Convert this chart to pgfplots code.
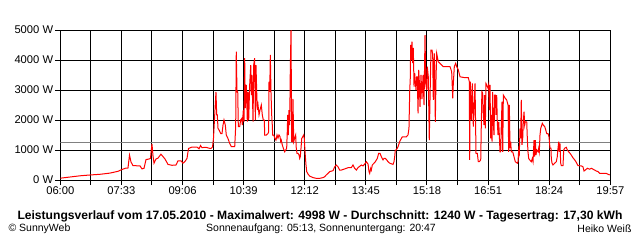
\documentclass[border=0pt]{standalone}
\usepackage{pgfplots}
\pgfplotsset{compat=1.18}
\usepackage{fontspec}
\setmainfont{Liberation Sans}
\pgfplotstableread{
m W
0 60
14.8 100
30 140
46.7 170
60.4 190
75.6 230
87.8 290
93.9 350
100 400
103 400
105.3 830
107.6 600
110.6 480
121.3 470
124.3 370
127.4 390
130.4 680
135.0 700
137.3 720
138.0 900
139.5 1200
141.1 800
142.6 560
145.6 700
148.7 730
153.2 860
156.3 780
159.3 700
163.9 520
170.0 490
176.1 500
179.1 640
183.7 640
186.7 560
189.8 620
192.8 720
195.1 1050
200.4 1100
208.0 1100
211.1 1040
213.4 1150
215.6 1080
221.7 1090
226.3 1060
229.3 1050
231.6 1100
233.1 1380
235.0 2170
236.9 2940
238.0 2170
238.9 2170
240.0 1720
242.0 1650
244.1 1550
246.1 1550
247.6 1830
249.1 2000
251.1 1830
252.6 1500
255.2 1380
257.8 1220
260.2 1110
265.4 1110
266.9 1780
267.8 4280
268.9 2940
270.0 2950
270.9 1780
273.0 1780
274.5 2000
276.1 2050
277.0 1830
278.5 2330
279.6 1950
280.6 4060
281.5 2400
283.1 3170
284.6 1950
285.6 2940
286.7 2000
288.2 3170
289.8 3830
290.7 2830
291.7 3500
293.3 1950
294.3 3830
295.8 4060
296.8 2000
297.8 3830
298.9 2940
299.8 2330
300.9 2500
302.4 2170
303.9 2330
305.9 2500
307.4 2170
308.9 2000
310.4 2000
311.1 1500
313.5 1500
316.1 1550
317.1 1610
317.6 3280
318.7 2940
319.6 4170
320.6 2940
321.7 2170
322.6 1830
323.2 1500
324.8 1500
326.3 1400
328.2 1330
329.8 1500
331.3 1400
332.8 1500
334.3 1450
335.4 1280
336.3 1330
337.8 1170
339.4 1060
341.5 940
343.0 1000
344.5 1060
345.4 1610
346.1 2170
347.0 1500
348.0 2330
349.1 1830
350.0 3670
351.1 4998
352.1 1280
353.1 1280
354.1 2700
355.2 1280
356.7 1400
358.2 1500
359.1 1060
360.2 890
361.7 890
363.3 830
364.3 720
365.2 780
366.3 1060
367.4 1380
368.9 1440
370.4 1500
371.3 1380
372.4 940
373.9 500
375.0 280
376.9 200
379.5 130
384.6 80
389.6 55
394.8 55
399.8 80
402.4 110
404.8 170
407.4 220
410.0 280
415.0 310
417.6 440
420.0 500
422.6 440
425.2 330
427.6 330
432.8 370
437.8 410
442.8 410
445.4 500
448.0 390
450.5 330
453.0 410
458.1 500
460.6 470
463.2 530
465.7 610
468.3 530
469.8 280
470.8 220
472.4 390
473.3 330
474.8 500
477.4 560
479.4 610
482.4 720
484.5 890
486.5 890
488.5 780
491.1 670
492.6 720
494.6 720
496.7 670
498.7 610
501.3 560
506.3 520
507.8 610
508.9 780
509.8 1000
511.3 1000
513.9 1110
516.5 1280
518.9 1380
520.5 1440
526.5 1440
529.1 1500
530.6 1720
531.7 2940
532.6 3400
533.2 4500
534.2 4000
535.2 4610
536.3 3900
537.2 4400
538.3 3110
539.3 3560
540.2 3300
541.3 3000
542.4 3440
543.3 3440
544.4 2220
545.4 3670
546.3 3300
547.4 2440
548.9 3500
550.4 2700
552.0 3500
553.5 2500
555.0 4830
556.1 3220
557.6 3000
558.5 3780
560.0 3440
561.5 1330
562.6 2670
564.1 4330
565.7 4330
566.7 4170
567.6 2670
569.2 4220
570.7 1940
571.7 3330
572.8 4220
575.2 3940
577.8 3890
582.8 3780
593.0 3780
595.6 3610
597.2 2720
598.1 3220
599.6 3780
601.7 3890
603.2 3780
605.7 3670
608.3 3440
615.9 3410
620.9 3410
622.4 3280
623.0 670
623.9 3280
625.5 2000
627.0 3220
628.5 1780
631.1 3220
632.6 890
634.6 890
636.1 610
637.6 610
639.8 670
641.3 2670
641.7 2940
642.8 2890
643.7 2170
644.8 1830
645.9 2830
646.8 1720
647.8 3220
648.9 3170
650.9 3060
651.9 3170
652.9 2330
653.9 3170
655.0 1390
655.9 2170
657.0 1280
658.0 2940
658.9 1940
660.0 1500
661.1 2830
662.0 2830
663.0 2170
664.1 2830
665.0 1940
666.1 1500
667.2 1940
668.1 1500
669.1 940
670.2 940
671.1 1830
672.2 2610
673.3 940
674.2 2830
677.2 2720
679.3 2670
681.3 2500
682.4 940
683.3 2500
684.4 1060
685.4 1280
686.3 940
688.5 940
690.4 780
692.4 610
695.5 560
696.5 610
697.6 1000
698.5 890
699.6 1720
700.6 1390
701.5 2670
702.6 1170
703.7 1390
704.6 1940
705.7 2280
706.7 1830
707.6 1940
709.8 1940
710.7 1390
711.7 940
712.8 720
714.3 670
716.8 610
718.3 720
719.4 610
720.9 1330
721.9 780
722.9 1330
723.9 830
725.0 1000
727.0 940
728.0 1060
728.9 940
730.0 1500
731.1 1720
732.0 1780
733.5 1890
735.0 1830
737.2 1780
738.7 1670
740.2 1550
742.2 1550
743.7 1440
745.2 1060
746.7 1060
747.2 720
748.3 560
749.8 500
752.4 560
754.8 610
756.3 780
757.4 1060
758.5 1280
759.4 940
760.4 1220
761.5 560
762.4 480
765.0 480
766.1 1000
767.6 1060
770.0 1090
771.6 1000
773.7 940
775.7 890
777.6 830
780.2 740
782.8 670
785.2 590
787.8 480
792.9 470
795.4 440
797.0 300
798.9 330
802.0 390
805.6 360
808.1 390
810.7 360
813.2 330
815.7 300
818.3 280
820.8 220
830.9 220
833.5 190
836.1 170
}\power
\begin{document}
\begin{tikzpicture}[x=1bp,y=1bp]
\path[use as bounding box] (0,0) rectangle (640,240);
\begin{axis}[
  at={(60.3bp,60bp)}, anchor=south west,
  scale only axis, width=550bp, height=150bp,
  xmin=0, xmax=837, ymin=0, ymax=5000,
  xtick={0,93,...,837},
  xticklabels={06:00,07:33,09:06,10:39,12:12,13:45,15:18,16:51,18:24,19:57},
  minor xtick={46.5,139.5,...,837},
  ytick={0,1000,...,5000},
  yticklabels={0 W,1000 W,2000 W,3000 W,4000 W,5000 W},
  grid=both,
  major grid style={black, line width=1bp},
  minor grid style={black, line width=1bp},
  axis line style={black, line width=1bp},
  tick style={black, line width=1bp},
  tick align=outside,
  major tick length=5bp, minor tick length=5bp,
  xtick pos=bottom, ytick pos=left,
  tick label style={font=\fontsize{11.2bp}{13bp}\selectfont},
  xticklabel style={inner sep=1bp},
  yticklabel style={inner sep=2bp},
  /pgf/number format/assume math mode=true,
]
\addplot[color={rgb,255:red,128;green,128;blue,128}, line width=1bp] coordinates {(0,1240) (837,1240)};
\addplot[red, line width=1bp, mark=none] table[x=m, y=W] {\power};
\end{axis}
\node[font=\bfseries\fontsize{12.1bp}{14bp}\selectfont] at (320,24) {Leistungsverlauf vom 17.05.2010 - Maximalwert: 4998 W - Durchschnitt: 1240 W - Tagesertrag: 17,30 kWh};
\node[anchor=west, font=\fontsize{10.5bp}{12bp}\selectfont] at (5,11) {© SunnyWeb};
\node[font=\fontsize{10.5bp}{12bp}\selectfont] at (321,11) {Sonnenaufgang: 05:13, Sonnenuntergang: 20:47};
\node[anchor=east, font=\fontsize{10.5bp}{12bp}\selectfont] at (635,11) {Heiko Weiß};
\end{tikzpicture}
\end{document}
